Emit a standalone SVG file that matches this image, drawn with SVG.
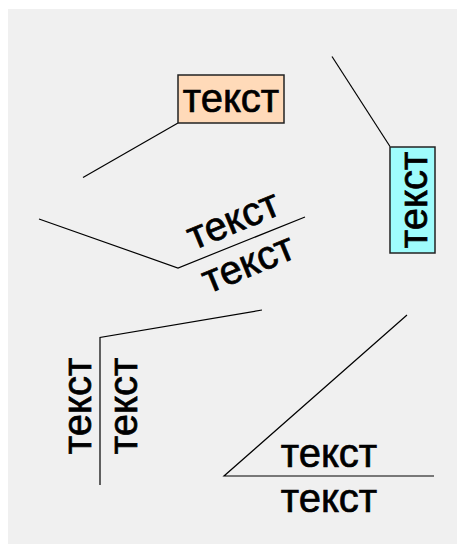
<svg xmlns="http://www.w3.org/2000/svg" width="457" height="544" viewBox="0 0 457 544">
<style>
.t{font-family:"Liberation Sans",Arial,sans-serif;font-size:40px;fill:#000;stroke:#000;stroke-width:0.7;text-anchor:middle}
.ln{fill:none;stroke:#000;stroke-width:1.2}
.box{stroke:#222;stroke-width:1.5}
</style>
<rect x="0" y="0" width="457" height="544" fill="#fff"/>
<rect x="8" y="9" width="449" height="535" fill="#f0f0f0"/>
<g id="connectors">
<polyline class="ln" points="83,177.5 178,123"/>
<polyline class="ln" points="332,56.5 390,146.5"/>
<polyline class="ln" points="39,219 178,268 305,217"/>
<polyline class="ln" points="262,310 100,337.5 100,485"/>
<polyline class="ln" points="407,315 224,476 434,476"/>
</g>
<g id="node-orange">
<rect class="box" x="178" y="75" width="106" height="48" fill="#ffdab9"/>
<text class="t" x="231" y="112">текст</text>
</g>
<g id="node-cyan">
<rect class="box" x="390" y="147" width="45" height="106" fill="#9ffcfc"/>
<text class="t" transform="translate(427,200) rotate(-90)">текст</text>
</g>
<g id="node-tilted">
<text class="t" transform="translate(238,232) rotate(-22.4)">текст</text>
<text class="t" transform="translate(253,275.5) rotate(-22.4)">текст</text>
</g>
<g id="node-vertical">
<text class="t" transform="translate(91,406) rotate(-90)">текст</text>
<text class="t" transform="translate(137,406) rotate(-90)">текст</text>
</g>
<g id="node-horizontal">
<text class="t" x="329" y="467">текст</text>
<text class="t" x="329" y="512">текст</text>
</g>
</svg>
